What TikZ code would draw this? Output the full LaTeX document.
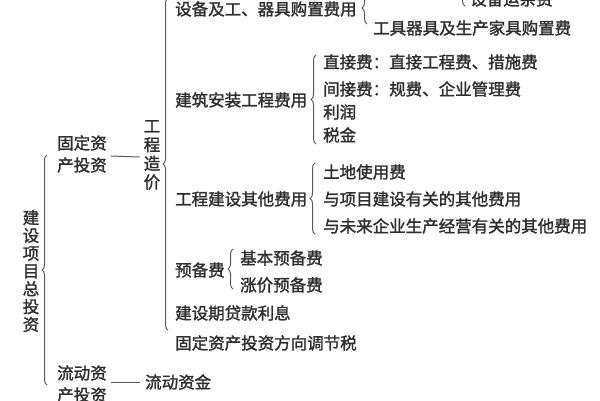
\documentclass[tikz,border=0pt]{standalone}
\usepackage{fontspec}
\setmainfont{Noto Sans CJK SC}[FakeBold=1.6]
\usetikzlibrary{decorations.pathreplacing}
\begin{document}
\begin{tikzpicture}[x=1pt,y=-1pt,
  lbl/.style={anchor=west, inner sep=0pt, text=black!82, font=\fontsize{16.5}{18}\selectfont},
  vlbl/.style={inner sep=0pt, align=center, text=black!82},
  br/.style={decorate, decoration={brace, amplitude=5pt}, line width=1pt, draw=black!65},
  ln/.style={line width=1pt, draw=black!65}]
\clip (0,0) rectangle (600,400);
\fill[white] (0,0) rectangle (600,400);

% root
\node[vlbl, font=\fontsize{16.5}{17.8}\selectfont] (root) at (31,271) {建\\设\\项\\目\\总\\投\\资};
\draw[br] (47,385) -- (47,155);

% level 1
\node[lbl, align=left, font=\fontsize{16.5}{22}\selectfont] (gd) at (57,154) {固定资\\产投资};
\node[lbl, align=left, font=\fontsize{16.5}{22}\selectfont] (ld) at (57,384) {流动资\\产投资};

% level 2
\node[vlbl, font=\fontsize{16.5}{18.7}\selectfont] (gczj) at (152,155) {工\\程\\造\\价};
\node[lbl] (ldzj) at (145,382) {流动资金};
\draw[ln] ([xshift=4pt,yshift=-2pt]gd.east) -- ([xshift=-4pt,yshift=-2pt]gczj.west);
\draw[ln] ([xshift=4pt,yshift=2pt]ld.east) -- ([xshift=-5pt]ldzj.west);

\draw[br] (168,330) -- (168,-2);

% level 3
\node[lbl] (a1) at (175,9) {设备及工、器具购置费用};
\node[lbl] (a2) at (175,100) {建筑安装工程费用};
\node[lbl] (a3) at (175,199) {工程建设其他费用};
\node[lbl] (a4) at (175,270) {预备费};
\node[lbl] (a5) at (175,313) {建设期贷款利息};
\node[lbl] (a6) at (175,343) {固定资产投资方向调节税};

% under a1
\draw[br] (367,24) -- (367,-8);
\draw[br] (465,6) -- (465,-40);
\node[lbl] (a1x) at (470,-1) {设备运杂费};
\node[lbl] (a12) at (373,28) {工具器具及生产家具购置费};

% under a2
\draw[br] (316,144) -- (316,55);
\node[lbl] (a21) at (323,62) {直接费：直接工程费、措施费};
\node[lbl] (a22) at (323,89) {间接费：规费、企业管理费};
\node[lbl] (a23) at (323,112) {利润};
\node[lbl] (a24) at (323,135) {税金};

% under a3
\draw[br] (315,234) -- (315,163);
\node[lbl] (a31) at (323,172) {土地使用费};
\node[lbl] (a32) at (323,199) {与项目建设有关的其他费用};
\node[lbl] (a33) at (323,226) {与未来企业生产经营有关的其他费用};

% under a4
\draw[br] (233,289) -- (233,249);
\node[lbl] (a41) at (240,258) {基本预备费};
\node[lbl] (a42) at (240,285) {涨价预备费};
\end{tikzpicture}
\end{document}
